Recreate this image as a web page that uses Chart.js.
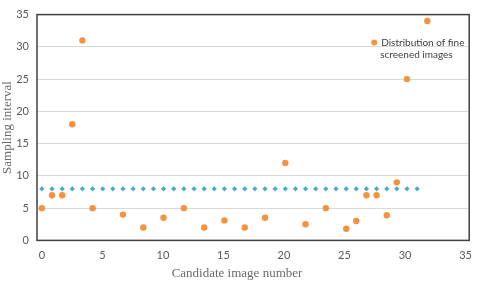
<!DOCTYPE html>
<html>
<head>
<meta charset="utf-8">
<script src="https://cdn.jsdelivr.net/npm/chart.js@4"></script>
<style>
  body { margin: 0; background: #fff; }
  #wrap { width: 480px; height: 282px; }
</style>
</head>
<body>
<div id="wrap"><canvas id="chart"></canvas></div>
<script>
// Fine screened images: candidate position (x) and sampling interval (y)
const fineX = [0, 0.84, 1.68, 2.51, 3.35, 4.19, 6.70, 8.38, 10.05, 11.73, 13.41, 15.08, 16.76,
  18.43, 20.11, 21.78, 23.46, 25.14, 25.97, 26.81, 27.65, 28.49, 29.32, 30.16, 31.84];
const fineY = [5, 7, 7, 18, 31, 5, 4, 2, 3.5, 5, 2, 3.1, 2,
  3.5, 12, 2.5, 5, 1.8, 3, 7, 7, 3.9, 9, 25, 34];

// Coarse sampling: constant interval of 8
const coarseX = [0, 0.84, 1.68, 2.51, 3.35, 4.19, 5.03, 5.86, 6.70, 7.54, 8.38, 9.22, 10.05,
  10.89, 11.73, 12.57, 13.41, 14.24, 15.08, 15.92, 16.76, 17.59, 18.43, 19.27, 20.11, 20.95,
  21.78, 22.62, 23.46, 24.30, 25.14, 25.97, 26.81, 27.65, 28.49, 29.32, 30.16, 31.00];
const coarseY = [8, 8, 8, 8, 8, 8, 8, 8, 8, 8, 8, 8, 8, 8, 8, 8, 8, 8, 8,
  8, 8, 8, 8, 8, 8, 8, 8, 8, 8, 8, 8, 8, 8, 8, 8, 8, 8, 8];

const xTicks = [0, 5, 10, 15, 20, 25, 30, 35];
const yTicks = [0, 5, 10, 15, 20, 25, 30, 35];
const legendLines = ["Distribution of fine", "screened images"];

const orange = "#f5923e";
const blue = "#4aaac8";

function toPoints(xs, ys) {
  return xs.map((x, i) => ({ x: x, y: ys[i] }));
}

// frame round the plot area + legend inside top right
const framePlugin = {
  id: "frame",
  afterDraw(chart) {
    const { ctx, chartArea: a } = chart;
    ctx.save();
    ctx.strokeStyle = "#404040";
    ctx.lineWidth = 1.5;
    ctx.strokeRect(a.left, a.top, a.right - a.left, a.bottom - a.top);

    ctx.fillStyle = orange;
    ctx.beginPath();
    ctx.arc(a.right - 95, a.top + 28, 3, 0, Math.PI * 2);
    ctx.fill();
    ctx.fillStyle = "#404040";
    ctx.font = "10px Lato";
    ctx.textBaseline = "middle";
    ctx.fillText(legendLines[0], a.right - 88, a.top + 28);
    ctx.fillText(legendLines[1], a.right - 89, a.top + 40);
    ctx.restore();
  }
};

new Chart(document.getElementById("chart"), {
  type: "scatter",
  data: {
    datasets: [
      {
        label: legendLines.join(" "),
        data: toPoints(fineX, fineY),
        backgroundColor: orange,
        borderColor: orange,
        pointRadius: 3.2,
        pointHoverRadius: 3.2,
        borderWidth: 0,
        order: 1,
      },
      {
        label: "Coarse sampling",
        data: toPoints(coarseX, coarseY),
        backgroundColor: blue,
        borderColor: blue,
        pointStyle: "rectRot",
        pointRadius: 2.6,
        pointHoverRadius: 2.6,
        borderWidth: 0,
        order: 2,
      },
    ],
  },
  options: {
    responsive: true,
    maintainAspectRatio: false,
    animation: false,
    layout: { padding: { top: 7, right: 6, bottom: 0, left: 0 } },
    scales: {
      x: {
        type: "linear",
        min: -0.4,
        max: 35.3,
        afterBuildTicks: (s) => { s.ticks = xTicks.map(v => ({ value: v })); },
        afterFit: (s) => { s.height = 25; },
        grid: { display: false, drawTicks: false },
        border: { display: false },
        ticks: { padding: 8, color: "#595959", font: { family: "Lato", size: 11 } },
      },
      y: {
        min: 0,
        max: 35,
        afterBuildTicks: (s) => { s.ticks = yTicks.map(v => ({ value: v })); },
        afterFit: (s) => { s.width = 37; },
        grid: { color: "#d9d9d9", lineWidth: 1, drawTicks: false },
        border: { display: false },
        ticks: { padding: 8, color: "#595959", font: { family: "Lato", size: 11 } },
        title: {
          display: true,
          text: "Sampling interval",
          color: "#6b6b6b",
          padding: 0,
          font: { family: "Liberation Serif", size: 13 },
        },
      },
    },
    plugins: {
      legend: { display: false },
      tooltip: { enabled: false },
      title: {
        display: true,
        position: "bottom",
        text: "Candidate image number",
        color: "#6b6b6b",
        padding: { top: 0, bottom: 1 },
        font: { family: "Liberation Serif", size: 13, weight: "normal" },
      },
    },
  },
  plugins: [framePlugin],
});
</script>
</body>
</html>
